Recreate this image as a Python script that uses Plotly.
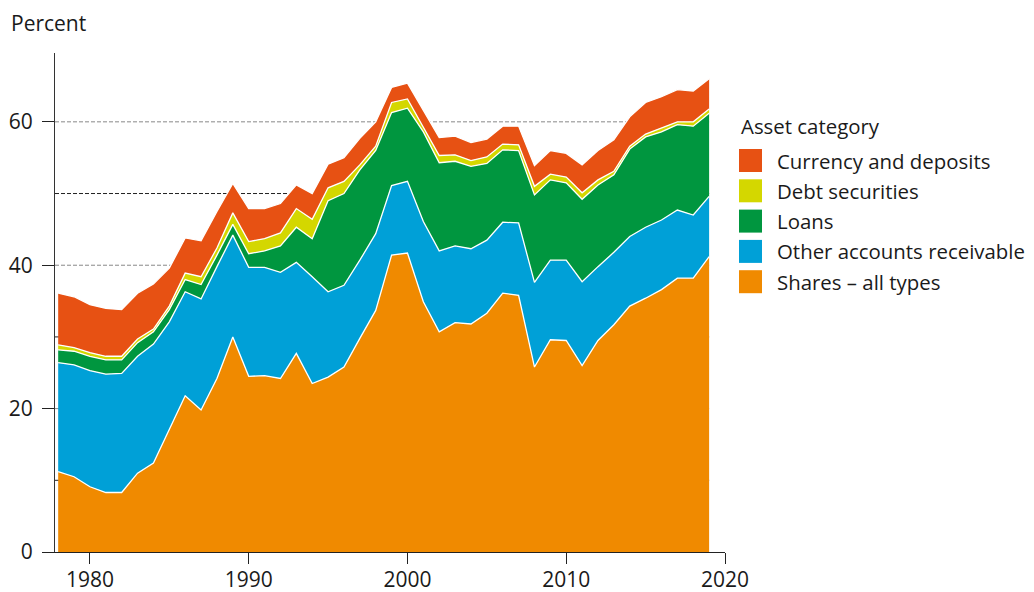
import plotly.graph_objects as go

years = list(range(1978, 2020))

shares = [11.2, 10.5, 9.1, 8.3, 8.3, 11.0, 12.4, 17.0, 21.8, 19.8, 24.2, 30.0, 24.5, 24.6,
          24.2, 27.7, 23.5, 24.4, 25.8, 29.8, 33.7, 41.4, 41.7, 34.9, 30.7, 32.0, 31.8, 33.3,
          36.1, 35.8, 25.8, 29.6, 29.5, 26.0, 29.5, 31.7, 34.3, 35.4, 36.6, 38.2, 38.2, 41.2]
other_receivable = [15.2, 15.6, 16.2, 16.5, 16.6, 16.3, 16.6, 15.1, 14.5, 15.5, 15.6, 14.2, 15.2, 15.1,
                    14.8, 12.7, 14.9, 11.9, 11.4, 10.9, 10.7, 9.7, 10.0, 11.2, 11.3, 10.7, 10.5, 10.2,
                    9.9, 10.1, 11.8, 11.1, 11.2, 11.7, 10.3, 10.1, 9.7, 9.9, 9.7, 9.5, 8.8, 8.4]
loans = [1.8, 1.9, 2.0, 2.0, 1.9, 1.9, 1.7, 1.7, 1.7, 2.0, 1.6, 1.5, 1.9, 2.3,
         3.7, 4.9, 5.3, 12.7, 12.8, 12.6, 11.6, 10.2, 10.2, 12.5, 12.3, 11.8, 11.5, 10.7,
         10.1, 10.1, 12.2, 11.2, 10.8, 11.5, 11.4, 10.8, 12.2, 12.6, 12.3, 11.9, 12.4, 11.6]
debt_securities = [0.7, 0.5, 0.5, 0.5, 0.5, 0.5, 0.4, 0.5, 0.9, 1.1, 1.0, 1.6, 1.7, 1.7,
                   1.8, 2.6, 2.7, 1.8, 1.7, 0.7, 0.6, 1.4, 1.3, 0.7, 1.0, 0.9, 0.8, 0.9,
                   0.8, 0.8, 1.2, 0.8, 0.8, 0.9, 0.7, 0.5, 0.4, 0.4, 0.5, 0.4, 0.6, 0.6]
currency_deposits = [7.2, 7.1, 6.7, 6.7, 6.5, 6.4, 6.3, 5.3, 4.9, 5.0, 5.1, 4.1, 4.6, 4.2,
                     4.1, 3.3, 3.6, 3.3, 3.3, 3.7, 3.4, 2.1, 2.2, 2.4, 2.5, 2.6, 2.5, 2.5,
                     2.5, 2.6, 2.9, 3.3, 3.3, 3.9, 4.1, 4.4, 4.1, 4.4, 4.4, 4.5, 4.3, 4.2]

series_names = ["Shares – all types", "Other accounts receivable", "Loans",
                "Debt securities", "Currency and deposits"]
series_values = [shares, other_receivable, loans, debt_securities, currency_deposits]
colors = ["#F08A00", "#00A0D7", "#00963F", "#D4D700", "#E75113"]

legend_title = "Asset category"
y_title = "Percent"
x_ticks = [1980, 1990, 2000, 2010, 2020]
y_ticks = [0, 20, 40, 60]
grid_levels = [10, 20, 30, 40, 50, 60]

FONT = "Open Sans"
FS = 21
FS_LEG = 20.4
TXT = "#1a1a1a"

# page body has an 8px margin: lay out in window pixels, then shift
OFF = 8
FW, FH = 1034 - OFF, 592 - OFF
L, R, T, B = 55 - OFF, 725 - OFF, 53 - OFF, 552 - OFF
W, H = R - L, B - T
XR = [1977.8, 2020]
YR = [0, 69.6]


def px(x):
    return (x - OFF - L) / W


def py(y):
    return (B - (y - OFF)) / H


fig = go.Figure()
for name, vals, col in zip(series_names, series_values, colors):
    fig.add_trace(go.Scatter(
        x=years, y=vals, name=name, mode="lines", stackgroup="one",
        line=dict(color="white", width=1.3), fillcolor=col, showlegend=False))

# dashed gridlines, drawn only across the span of the data
for g in grid_levels:
    fig.add_shape(type="line", layer="below", xref="x", yref="y",
                  x0=XR[0], x1=years[-1], y0=g, y1=g,
                  line=dict(color="#888" if g % 20 == 0 else "#222", width=1, dash="4px,2px"))

# manual legend with square swatches
fig.add_annotation(text=legend_title, x=px(739), y=py(126), xref="paper", yref="paper",
                   xanchor="left", yanchor="middle", showarrow=False,
                   font=dict(family=FONT, size=FS_LEG, color=TXT))
legend_order = [4, 3, 2, 1, 0]
for i, idx in enumerate(legend_order):
    cy = 160.5 + i * 30.3
    fig.add_shape(type="rect", xref="paper", yref="paper",
                  x0=px(739), x1=px(762), y0=py(cy + 11.5), y1=py(cy - 11.5),
                  fillcolor=colors[idx], line=dict(width=0))
    fig.add_annotation(text=series_names[idx], x=px(775), y=py(cy), xref="paper", yref="paper",
                       xanchor="left", yanchor="middle", showarrow=False,
                       font=dict(family=FONT, size=FS_LEG, color=TXT))

fig.add_annotation(text=y_title, x=px(9), y=py(23), xref="paper", yref="paper",
                   xanchor="left", yanchor="middle", showarrow=False,
                   font=dict(family=FONT, size=FS, color=TXT))

fig.update_layout(
    width=FW, height=FH,
    margin=dict(l=L, r=FW - R, t=T, b=FH - B, pad=0),
    paper_bgcolor="white", plot_bgcolor="white",
    font=dict(family=FONT, size=FS, color=TXT),
    showlegend=False,
)
fig.update_xaxes(
    range=XR, tickvals=x_ticks, ticks="outside", ticklen=11, tickwidth=1.3,
    tickcolor="#222", showline=True, linecolor="#222", linewidth=1.3, showgrid=False,
    zeroline=False, automargin=False, layer="below traces", ticklabelstandoff=-2,
    tickfont=dict(family=FONT, size=FS, color=TXT))
fig.update_yaxes(
    range=YR, tickvals=y_ticks, ticks="outside", ticklen=12, tickwidth=1.3,
    tickcolor="#222", showline=True, linecolor="#333", linewidth=1.3,
    showgrid=False, zeroline=False, automargin=False, ticklabelstandoff=5,
    tickfont=dict(family=FONT, size=FS, color=TXT))

fig.write_html("out.html")
